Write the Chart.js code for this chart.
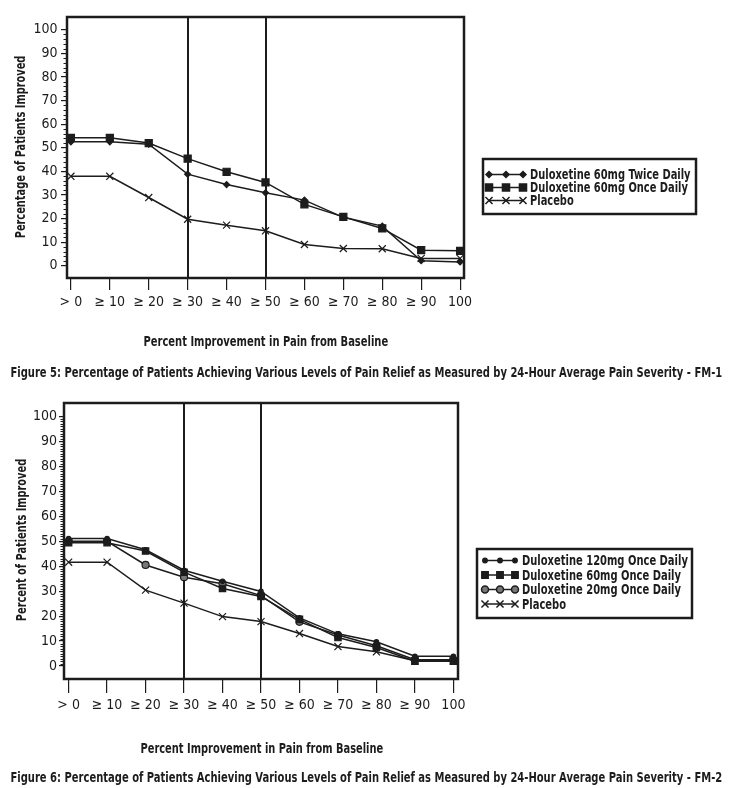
<!DOCTYPE html>
<html>
<head>
<meta charset="utf-8">
<script src="https://cdn.jsdelivr.net/npm/chart.js@4.4.1/dist/chart.umd.min.js"></script>
<style>
  body { margin: 0; background: #fff; }
  .wrap { position: absolute; left: 0; width: 735px; }
  #wrap5 { top: 0; height: 390px; }
  #wrap6 { top: 390px; height: 398px; }
  .lbl {
    position: absolute; white-space: nowrap; font-weight: bold; font-size: 14px;
    line-height: 16px; color: #1c1c1c; transform-origin: 50% 50%;
    font-family: 'Liberation Sans Narrow', 'DejaVu Sans Condensed', 'Liberation Sans', sans-serif;
  }
</style>
</head>
<body>
<div class="wrap" id="wrap5"><canvas id="fig5"></canvas></div>
<div class="wrap" id="wrap6"><canvas id="fig6"></canvas></div>
<script>
// categories and ticks
const X_LABELS = ["> 0", "\u2265 10", "\u2265 20", "\u2265 30", "\u2265 40", "\u2265 50", "\u2265 60", "\u2265 70", "\u2265 80", "\u2265 90", "100"];
const Y_TICKS = [0, 10, 20, 30, 40, 50, 60, 70, 80, 90, 100];
const REF_LINES = [3, 5]; // >=30 and >=50

// Figure 5 (FM-1)
const FM1_TWICE_60 = [52.5, 52.5, 51.5, 38.8, 34.4, 30.9, 27.8, 20.5, 16.8, 2.1, 1.6];
const FM1_ONCE_60 = [54.2, 54.2, 52.0, 45.4, 39.8, 35.3, 26.0, 20.7, 15.8, 6.6, 6.3];
const FM1_PLACEBO = [37.9, 37.9, 28.9, 19.7, 17.2, 14.8, 9.0, 7.3, 7.2, 3.1, 3.1];

// Figure 6 (FM-2)
const FM2_ONCE_120 = [51.1, 51.1, 46.6, 38.4, 34.0, 29.9, 19.3, 12.9, 9.7, 3.9, 3.9];
const FM2_ONCE_60 = [49.4, 49.4, 46.1, 37.6, 31.1, 27.9, 18.7, 11.4, 7.4, 1.9, 1.9];
const FM2_ONCE_20 = [50.0, 50.0, 40.5, 35.6, 33.0, 28.2, 17.7, 12.4, 8.1, 2.5, 2.5];
const FM2_PLACEBO = [41.6, 41.6, 30.4, 25.2, 19.8, 17.8, 13.0, 7.8, 5.7, 2.1, 2.1];

const X_TITLE = "Percent Improvement in Pain from Baseline";

const FONT = "'Liberation Sans Narrow', 'DejaVu Sans Condensed', 'Liberation Sans', sans-serif";
const INK = "#1c1c1c";
Chart.defaults.font.family = FONT;
Chart.defaults.color = INK;

const pts = arr => arr.map((v, i) => ({ x: i, y: v }));

// box around plot, reference lines, minor y ticks
const framePlugin = {
  id: "frame",
  beforeDatasetsDraw(chart, args, opts) {
    const { ctx, chartArea: a, scales: { x } } = chart;
    ctx.save();
    ctx.strokeStyle = INK;
    ctx.lineWidth = 2;
    REF_LINES.forEach(i => {
      const px = Math.round(x.getPixelForValue(i));
      ctx.beginPath();
      ctx.moveTo(px, a.top);
      ctx.lineTo(px, a.bottom);
      ctx.stroke();
    });
    ctx.restore();
  },
  afterDraw(chart, args, opts) {
    const { ctx, chartArea: a, scales: { y } } = chart;
    ctx.save();
    ctx.strokeStyle = INK;
    ctx.lineWidth = 1;
    for (let v = 0; v <= 100; v += opts.minorStep) {
      if (v % 10 === 0) continue;
      const py = Math.round(y.getPixelForValue(v)) + 0.5;
      ctx.beginPath();
      ctx.moveTo(a.left - opts.minorLen, py);
      ctx.lineTo(a.left, py);
      ctx.stroke();
    }
    ctx.lineWidth = 2.5;
    ctx.strokeRect(a.left, a.top, a.right - a.left, a.bottom - a.top);
    ctx.restore();
  }
};

// boxed legend with line + three markers
const boxLegendPlugin = {
  id: "boxLegend",
  afterDraw(chart, args, o) {
    const { ctx } = chart;
    ctx.save();
    ctx.strokeStyle = INK;
    ctx.lineWidth = 2.5;
    ctx.strokeRect(o.left, o.top, o.width, o.height);
    ctx.font = "bold " + o.fontSize + "px " + FONT;
    ctx.textBaseline = "middle";
    ctx.textAlign = "left";
    chart.data.datasets.forEach((ds, i) => {
      const cy = o.firstRow + i * o.rowGap;
      ctx.strokeStyle = INK;
      ctx.fillStyle = ds.pointBackgroundColor || INK;
      ctx.lineWidth = 1.5;
      ctx.beginPath();
      ctx.moveTo(o.sampleX, cy);
      ctx.lineTo(o.sampleX + o.sampleW, cy);
      ctx.stroke();
      [0, 0.5, 1].forEach(f => {
        Chart.helpers.drawPoint(ctx, {
          pointStyle: ds.pointStyle,
          radius: ds.pointRadius,
          rotation: 0,
          borderWidth: ds.pointBorderWidth || 1
        }, o.sampleX + f * o.sampleW, cy);
      });
      ctx.fillStyle = INK;
      const w = ctx.measureText(ds.label).width;
      ctx.fillText(ds.label, o.textX, cy + 1, w * o.squeeze);
    });
    ctx.restore();
  }
};

function series(label, data, style, radius, fill) {
  return {
    label: label,
    data: pts(data),
    borderColor: INK,
    borderWidth: 1.5,
    pointStyle: style,
    pointRadius: radius,
    pointBackgroundColor: fill || INK,
    pointBorderColor: INK,
    pointBorderWidth: 1.2,
    tension: 0
  };
}

function makeChart(id, cfg) {
  return new Chart(document.getElementById(id), {
    type: "line",
    data: { datasets: cfg.datasets },
    options: {
      responsive: true,
      maintainAspectRatio: false,
      animation: false,
      layout: { padding: { top: cfg.top, right: cfg.right, left: 0, bottom: cfg.bottom } },
      plugins: {
        legend: { display: false },
        tooltip: { enabled: false },
        frame: { minorStep: cfg.minorStep, minorLen: 3.5 },
        boxLegend: cfg.legend
      },
      scales: {
        x: {
          type: "linear",
          min: cfg.xMin,
          max: cfg.xMax,
          afterBuildTicks: s => { s.ticks = X_LABELS.map((_, i) => ({ value: i })); },
          afterFit: s => { s.height = cfg.xHeight; },
          ticks: {
            autoSkip: false, maxRotation: 0, padding: 4, color: INK,
            font: { size: 14 },
            callback: v => X_LABELS[v]
          },
          grid: { drawOnChartArea: false, tickLength: cfg.xTick, color: INK, lineWidth: 1.2 },
          border: { display: false }
        },
        y: {
          type: "linear",
          min: -5.2,
          max: 105.4,
          afterBuildTicks: s => { s.ticks = Y_TICKS.map(v => ({ value: v })); },
          afterFit: s => { s.width = cfg.yWidth; },
          ticks: { padding: cfg.yPad, color: INK, font: { size: 14 }, callback: v => String(v) },
          grid: { drawOnChartArea: false, tickLength: cfg.yTick, color: INK, lineWidth: 1.2 },
          border: { display: false }
        }
      }
    },
    plugins: [framePlugin, boxLegendPlugin]
  });
}

// text placed as html, squeezed horizontally to the reference's condensed width
function label(text, cx, cy, width, rotate) {
  const el = document.createElement("div");
  el.className = "lbl";
  el.textContent = text;
  document.body.appendChild(el);
  const w = el.offsetWidth, h = el.offsetHeight;
  el.style.left = (cx - w / 2) + "px";
  el.style.top = (cy - h / 2) + "px";
  el.style.transform = (rotate ? "rotate(-90deg) " : "") + "scaleX(" + (width / w) + ")";
}

const fig5 = makeChart("fig5", {
  datasets: [
    series("Duloxetine 60mg Twice Daily", FM1_TWICE_60, "rectRot", 3),
    series("Duloxetine 60mg Once Daily", FM1_ONCE_60, "rect", 5),
    series("Placebo", FM1_PLACEBO, "crossRot", 5)
  ],
  top: 17, right: 271, bottom: 72,
  xMin: -0.1, xMax: 10.1, xHeight: 40, xTick: 12,
  yWidth: 67, yTick: 6, yPad: 3.5, minorStep: 2,
  legend: { left: 483, top: 159, width: 213, height: 55, firstRow: 174.5, rowGap: 13, sampleX: 489, sampleW: 34, textX: 530, fontSize: 14, squeeze: 0.785 }
});

const fig6 = makeChart("fig6", {
  datasets: [
    series("Duloxetine 120mg Once Daily", FM2_ONCE_120, "circle", 2.2),
    series("Duloxetine 60mg Once Daily", FM2_ONCE_60, "rect", 4.5),
    series("Duloxetine 20mg Once Daily", FM2_ONCE_20, "circle", 3.5, "#777"),
    series("Placebo", FM2_PLACEBO, "crossRot", 5)
  ],
  top: 13, right: 277, bottom: 69,
  xMin: -0.12, xMax: 10.12, xHeight: 40, xTick: 14,
  yWidth: 64, yTick: 5, yPad: 2, minorStep: 1,
  legend: { left: 477, top: 159, width: 215, height: 69, firstRow: 170.5, rowGap: 14.5, sampleX: 485, sampleW: 30, textX: 522, fontSize: 14, squeeze: 0.79 }
});

label("Percentage of Patients Improved", 20.5, 147, 183, true);
label(X_TITLE, 265.5, 341, 245, false);
label("Figure 5: Percentage of Patients Achieving Various Levels of Pain Relief as Measured by 24-Hour Average Pain Severity - FM-1", 366, 372, 712, false);
label("Percent of Patients Improved", 20.5, 540, 162, true);
label(X_TITLE, 261.5, 748, 243, false);
label("Figure 6: Percentage of Patients Achieving Various Levels of Pain Relief as Measured by 24-Hour Average Pain Severity - FM-2", 366, 777, 712, false);
</script>
</body>
</html>
